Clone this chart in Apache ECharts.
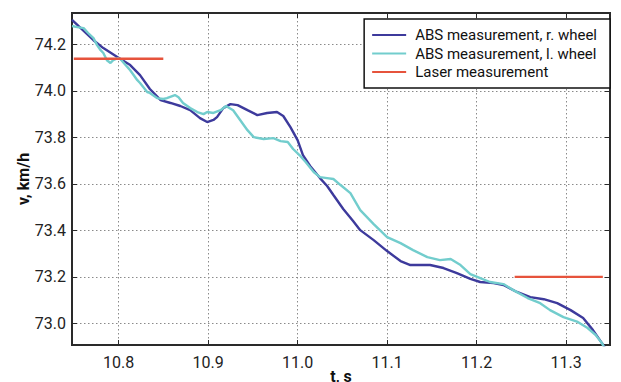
<!DOCTYPE html>
<html>
<head>
<meta charset="utf-8">
<script src="https://cdn.jsdelivr.net/npm/echarts@6/dist/echarts.min.js"></script>
<style>
html,body{margin:0;padding:0;background:#fff;}
#chart{width:621px;height:382px;}
</style>
</head>
<body>
<div id="chart"></div>
<script>
// ---- data ----
const rWheelT = [10.748,10.772,10.783,10.799,10.813,10.824,10.835,10.847,10.858,10.869,10.880,10.891,10.899,10.906,10.910,10.917,10.925,10.933,10.944,10.955,10.966,10.977,10.984,10.992,11.000,11.006,11.014,11.025,11.033,11.040,11.051,11.062,11.070,11.085,11.100,11.115,11.126,11.148,11.163,11.178,11.193,11.204,11.219,11.230,11.245,11.260,11.275,11.290,11.305,11.319,11.330,11.340,11.345];
const rWheelV = [74.305,74.218,74.184,74.145,74.111,74.068,74.008,73.960,73.948,73.935,73.917,73.883,73.866,73.875,73.887,73.926,73.943,73.939,73.917,73.896,73.905,73.909,73.892,73.844,73.788,73.724,73.677,73.625,73.591,73.552,73.492,73.440,73.401,73.358,73.311,73.268,73.251,73.251,73.238,73.216,73.191,73.178,73.173,73.165,73.135,73.113,73.104,73.087,73.057,73.023,72.971,72.915,72.885];

const lWheelT = [10.748,10.754,10.761,10.766,10.772,10.776,10.780,10.783,10.787,10.791,10.794,10.799,10.802,10.810,10.813,10.821,10.824,10.832,10.835,10.843,10.850,10.854,10.863,10.867,10.872,10.880,10.888,10.895,10.899,10.906,10.914,10.920,10.928,10.936,10.944,10.951,10.962,10.973,10.981,10.989,10.995,11.003,11.009,11.018,11.025,11.033,11.040,11.048,11.059,11.070,11.085,11.100,11.115,11.129,11.145,11.159,11.171,11.182,11.193,11.204,11.215,11.230,11.241,11.257,11.271,11.282,11.297,11.313,11.324,11.333,11.340,11.345];
const lWheelV = [74.279,74.274,74.270,74.249,74.227,74.197,74.175,74.163,74.132,74.120,74.132,74.141,74.137,74.102,74.089,74.046,74.034,73.995,73.991,73.969,73.965,73.969,73.982,73.973,73.948,73.926,73.909,73.900,73.909,73.905,73.917,73.935,73.917,73.874,73.831,73.801,73.793,73.797,73.784,73.780,73.750,73.720,73.694,73.651,73.629,73.625,73.621,73.595,73.560,73.487,73.427,73.371,73.345,73.315,73.285,73.272,73.277,73.251,73.212,73.195,73.178,73.169,73.143,73.109,73.087,73.057,73.027,73.006,72.980,72.950,72.915,72.877];

const laserSpans = [[10.750, 10.850], [11.2425, 11.341]];
const laserValues = [74.138, 73.200];

const seriesNames = ['ABS measurement, r. wheel', 'ABS measurement, l. wheel', 'Laser measurement'];
const xRange = [10.748, 11.349];
const yRange = [72.907, 74.335];
const xStep = 0.1;
const yStep = 0.2;
const xTitle = 't, s';
const yTitle = 'v, km/h';

// ---- styles ----
const cBlue = '#3d3a9c';
const cCyan = '#72cdcd';
const cRed = '#e6533c';
const frame = '#2a2a2a';
const FONT = 'Roboto';

const zip = (a, b) => a.map((v, i) => [v, b[i]]);
const fmt = v => { const k = v / 0.1; return Math.abs(k - Math.round(k)) < 1e-6 ? v.toFixed(1) : ''; };

function ax(isX, pos, main) {
  return {
    type: 'value',
    min: isX ? xRange[0] : yRange[0],
    max: isX ? xRange[1] : yRange[1],
    position: pos,
    minInterval: isX ? xStep : yStep, maxInterval: isX ? xStep : yStep, splitNumber: isX ? 6 : 7,
    name: main ? (isX ? xTitle : yTitle) : '', nameLocation: 'middle',
    nameGap: isX ? 23 : 41, nameRotate: isX ? 0 : 90, nameMoveOverlap: false,
    nameTextStyle: {fontFamily: FONT, fontSize: 16, fontWeight: 'bold', color: '#111'},
    axisLine: {show: true, onZero: false, lineStyle: {color: frame, width: 2}},
    axisTick: {show: true, inside: true, length: 5, lineStyle: {color: frame}},
    axisLabel: {show: main, margin: isX ? 9 : 6, fontFamily: FONT, fontSize: 16, color: '#222',
      formatter: fmt, showMinLabel: false, showMaxLabel: false},
    splitLine: {show: main, lineStyle: {color: '#8a8a8a', type: [1.5, 2.5]}}
  };
}
function lineSeries(name, data, color) {
  return {name: name, type: 'line', data: data, showSymbol: false, color: color,
    lineStyle: {color: color, width: 2.4}};
}

const chart = echarts.init(document.getElementById('chart'), null, {renderer: 'svg'});
chart.setOption({
  animation: false,
  backgroundColor: '#fff',
  grid: {left: 72, right: 11, top: 13, bottom: 37, outerBoundsMode: 'none',
    show: true, borderColor: frame, borderWidth: 2, backgroundColor: 'transparent'},
  legend: {
    orient: 'vertical', right: 11, top: 19, padding: [7, 13, 7, 8],
    itemGap: 0.5, itemWidth: 34, itemHeight: 2, icon: 'rect',
    backgroundColor: '#fff', borderColor: '#111', borderWidth: 1.5, borderRadius: 0,
    textStyle: {fontFamily: FONT, fontSize: 15, color: '#111', lineHeight: 18, padding: [0, 0, 0, 4]},
    data: seriesNames
  },
  xAxis: [ax(true, 'bottom', true), ax(true, 'top', false)],
  yAxis: [ax(false, 'left', true), ax(false, 'right', false)],
  series: [
    lineSeries(seriesNames[0], zip(rWheelT, rWheelV), cBlue),
    lineSeries(seriesNames[1], zip(lWheelT, lWheelV), cCyan),
    lineSeries(seriesNames[2], zip(laserSpans[0], [laserValues[0], laserValues[0]]), cRed),
    lineSeries(seriesNames[2], zip(laserSpans[1], [laserValues[1], laserValues[1]]), cRed)
  ]
});
</script>
</body>
</html>
